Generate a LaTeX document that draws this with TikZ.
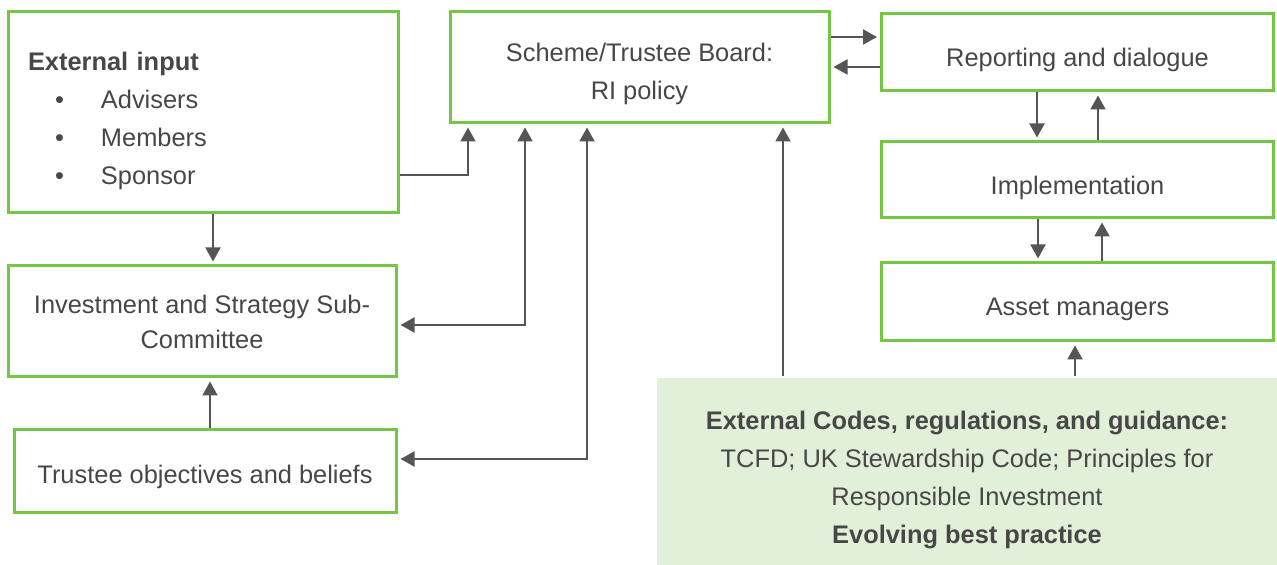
\documentclass[tikz,border=0pt]{standalone}
\usepackage{fontspec}
\setmainfont{Liberation Sans}
\usetikzlibrary{arrows.meta}
\definecolor{RIGreen}{HTML}{76C645}
\definecolor{RIPale}{HTML}{E2F0DA}
\definecolor{RIText}{HTML}{474747}
\definecolor{RILine}{HTML}{555555}

% taller first line, pushes the text a little below the box middle
\newcommand\padtop[1]{\rule{0pt}{#1}}

\tikzset{
  panel/.style={draw=RIGreen, line width=1.5pt, fill=white, text=RIText,
    align=center, inner sep=0pt, font=\fontsize{12.7}{19}\selectfont},
  link/.style={draw=RILine, line width=1pt, -{Triangle[length=7pt,width=7.5pt]},
    shorten >=1.5pt},
  twoway/.style={link, {Triangle[length=7pt,width=7.5pt]}-{Triangle[length=7pt,width=7.5pt]},
    shorten <=1.5pt}
}

\begin{document}
\begin{tikzpicture}[x=0.5pt, y=-0.5pt]
  \useasboundingbox (0,0) rectangle (1277,565);

  % left column
  \node[panel, minimum width=195pt, minimum height=100.5pt, text width=175pt, align=left]
    (extin) at (203,112.5) {%
      \padtop{18pt}\textbf{External input}\\
      \hspace*{13.5pt}\makebox[23pt][l]{•}Advisers\\
      \hspace*{13.5pt}\makebox[23pt][l]{•}Members\\
      \hspace*{13.5pt}\makebox[23pt][l]{•}Sponsor};
  \node[panel, minimum width=194pt, minimum height=55.5pt, font=\fontsize{12.7}{17.5}\selectfont]
    (invest) at (202,321.5) {Investment and Strategy Sub-\\Committee};
  \node[panel, minimum width=191pt, minimum height=41pt]
    (beliefs) at (205,471) {\padtop{15pt}Trustee objectives and beliefs};

  % board in the middle
  \node[panel, minimum width=189.5pt, minimum height=55.5pt]
    (board) at (639.5,67.5) {\padtop{16pt}Scheme/Trustee Board:\\RI policy};

  % right column
  \node[panel, minimum width=196pt, minimum height=38.5pt]
    (report) at (1077.5,52.5) {\padtop{17pt}Reporting and dialogue};
  \node[panel, minimum width=196pt, minimum height=38pt]
    (impl) at (1077.5,180) {\padtop{17pt}Implementation};
  \node[panel, minimum width=196pt, minimum height=39pt]
    (assets) at (1077.5,302) {\padtop{16pt}Asset managers};

  % codes and guidance
  \node[panel, draw=none, fill=RIPale, minimum width=310pt, minimum height=93.5pt]
    (codes) at (967,471.5) {%
      \padtop{18pt}\textbf{External Codes, regulations, and guidance:}\\
      TCFD; UK Stewardship Code; Principles for\\
      Responsible Investment\\
      \textbf{Evolving best practice}};

  % connectors
  \draw[link] (extin.east |- 0,175) -| (board.south -| 468,0);
  \draw[twoway] (invest.east |- 0,325) -| (board.south -| 525,0);
  \draw[twoway] (beliefs.east |- 0,459) -| (board.south -| 587,0);
  \draw[link] (codes.north -| 783,0) -- (board.south -| 783,0);
  \draw[link] (codes.north -| 1075,0) -- (assets.south -| 1075,0);

  \draw[link] (extin.south -| 213,0) -- (invest.north -| 213,0);
  \draw[link] (beliefs.north -| 210,0) -- (invest.south -| 210,0);

  \draw[link] (board.east |- 0,37) -- (report.west |- 0,37);
  \draw[link] (report.west |- 0,67) -- (board.east |- 0,67);
  \draw[link] (report.south -| 1037,0) -- (impl.north -| 1037,0);
  \draw[link] (impl.north -| 1098,0) -- (report.south -| 1098,0);
  \draw[link] (impl.south -| 1038,0) -- (assets.north -| 1038,0);
  \draw[link] (assets.north -| 1102,0) -- (impl.south -| 1102,0);
\end{tikzpicture}
\end{document}
